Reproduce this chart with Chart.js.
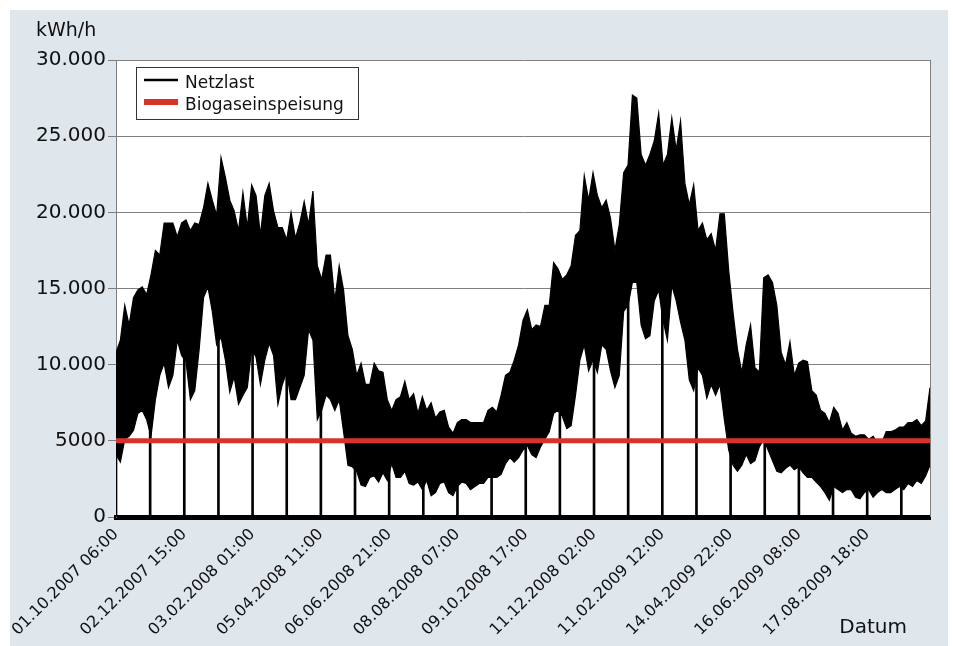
<!DOCTYPE html>
<html lang="de">
<head>
<meta charset="utf-8">
<title>Netzlast und Biogaseinspeisung</title>
<script src="https://cdn.jsdelivr.net/npm/chart.js@4.4.1/dist/chart.umd.min.js"></script>
<style>
  html, body { margin: 0; padding: 0; background: #fff; }
  #wrap { position: relative; width: 953px; height: 646px; }
</style>
</head>
<body>
<div id="wrap"><canvas id="lastChart" width="953" height="646"></canvas></div>
<script>
// Netzlast from 01.10.2007 06:00, read off the picture as a band:
// one upper and one lower value every 4 days, in kWh/h
const sampleStepHours = 96;

const netzMax = [
  10800, 11600, 13900, 12600, 14400, 14900, 15100, 14600, 15900, 17500,
  17200, 19300, 19300, 19300, 18400, 19300, 19500, 18800, 19300, 19200,
  20300, 21900, 20800, 19800, 23600, 22300, 20800, 20100, 18800, 21300,
  19000, 21800, 21100, 18500, 21100, 21900, 20100, 19000, 19000, 18200,
  20000, 18300, 19300, 20700, 19200, 21400, 16500, 15600, 17200, 17200,
  14200, 16500, 14900, 11900, 11000, 9300, 10100, 8700, 8700, 10100,
  9600, 9500, 7700, 7000, 7700, 7900, 8900, 7700, 8100, 6800,
  7900, 7000, 7500, 6500, 6900, 7000, 5900, 5500, 6200, 6400,
  6400, 6200, 6200, 6200, 6200, 7000, 7200, 6900, 8000, 9300,
  9500, 10300, 11300, 12900, 13600, 12300, 12600, 12500, 13900, 13900,
  16700, 16300, 15600, 15900, 16500, 18500, 18800, 22400, 20800, 22600,
  21100, 20300, 20800, 19600, 17500, 19200, 22600, 23100, 27700, 27500,
  23800, 23100, 23800, 24700, 26500, 23100, 23800, 26200, 24100, 26000,
  21900, 20500, 21800, 18800, 19300, 18200, 18600, 17500, 19900, 19900,
  16200, 13400, 11000, 9500, 11300, 12600, 9800, 9500, 15700, 15900,
  15400, 13900, 10800, 10000, 11500, 9300, 10100, 10300, 10200, 8300,
  8000, 7000, 6800, 6200, 7200, 6800, 5700, 6200, 5500, 5300,
  5400, 5400, 5100, 5300, 4900, 4900, 5600, 5600, 5700, 5900,
  5900, 6200, 6200, 6400, 6000, 6300, 8500
];

const netzMin = [
  4100, 3600, 5100, 5300, 5700, 6800, 7000, 6400, 5300, 7700,
  9300, 10100, 8500, 9300, 11600, 10600, 10200, 7700, 8300, 11000,
  14400, 15100, 13500, 11300, 11800, 10300, 8200, 9200, 7400, 8000,
  8500, 11000, 10500, 8700, 10300, 11400, 10600, 7400, 8700, 9500,
  7700, 7700, 8500, 9300, 12300, 11600, 6400, 7000, 8000, 7700,
  7000, 7700, 5600, 3400, 3300, 3000, 2100, 2000, 2600, 2700,
  2300, 2900, 2400, 3500, 2600, 2600, 3000, 2200, 2100, 2300,
  1800, 2400, 1400, 1600, 2200, 2300, 1600, 1400, 2000, 2300,
  2200, 1800, 2000, 2200, 2200, 2600, 2600, 2600, 2800, 3500,
  3900, 3600, 3900, 4400, 4700, 4100, 3900, 4600, 5100, 5600,
  6800, 7000, 6600, 5800, 6000, 8000, 10300, 11300, 9600, 10300,
  9500, 11300, 11000, 9600, 8500, 9300, 13500, 13900, 15400, 15400,
  12600, 11700, 11900, 14200, 14900, 12900, 11600, 15200, 14200, 12800,
  11600, 9000, 8300, 9800, 9300, 7800, 8700, 8000, 8700, 6400,
  4400, 3400, 3000, 3400, 4100, 3500, 3700, 4600, 5100, 4400,
  3700, 3000, 2900, 3200, 3400, 3100, 3300, 2900, 2600, 2600,
  2300, 2000, 1600, 1100, 2000, 1800, 1600, 1800, 1800, 1300,
  1200, 1600, 1800, 1300, 1600, 1800, 1600, 1600, 1800, 2000,
  1800, 2200, 2000, 2400, 2200, 2700, 3400
];

// Biogaseinspeisung is flat over the whole period (start, end)
const biogasLevel = [5000, 5000];

// one grid step in hours; the date labels sit on every second step
const tickStepHours = 749;
const xTickLabels = [
  '01.10.2007 06:00', '02.12.2007 15:00', '03.02.2008 01:00', '05.04.2008 11:00',
  '06.06.2008 21:00', '08.08.2008 07:00', '09.10.2008 17:00', '11.12.2008 02:00',
  '11.02.2009 12:00', '14.04.2009 22:00', '16.06.2009 08:00', '17.08.2009 18:00'
];
const yTickLabels = ['0', '5000', '10.000', '15.000', '20.000', '25.000', '30.000'];

// the load series falls to zero once every grid step;
// value where each of those drops runs into the band
const dropTops = [
  7000, 9000, 14000, 15000, 14000, 13000, 10000, 5000, 4000, 4000, 4000, 4000,
  7000, 10000, 15000, 18000, 18000, 14000, 8000, 7000, 5000, 3500, 3500, 3500
];

const lastHour = (netzMax.length - 1) * sampleStepHours;
const toPoints = arr => arr.map((v, i) => ({ x: i * sampleStepHours, y: v }));

const RED = '#d7332a';
const GRID = '#7f7f7f';
const FONT = 'DejaVu Sans';

// background, plot frame, legend box and the two axis captions
const framePlugin = {
  id: 'frame',
  beforeDraw(chart) {
    const { ctx, chartArea: a, width, height } = chart;
    ctx.save();
    ctx.fillStyle = '#fff';
    ctx.fillRect(0, 0, width, height);
    ctx.fillStyle = '#dfe6ec';
    ctx.fillRect(10, 10, width - 15, height - 10);
    ctx.fillStyle = '#fff';
    ctx.fillRect(a.left, a.top, a.right - a.left, a.bottom - a.top);
    ctx.restore();
  },
  afterDraw(chart) {
    const { ctx, chartArea: a, height } = chart;
    ctx.save();
    // right edge of the plot
    ctx.strokeStyle = GRID;
    ctx.lineWidth = 1;
    ctx.beginPath();
    ctx.moveTo(a.right + 0.5, a.top);
    ctx.lineTo(a.right + 0.5, a.bottom);
    ctx.stroke();

    // legend
    const items = chart.data.datasets.filter(d => d.inLegend)
      .sort((p, q) => p.legendRank - q.legendRank);
    const bx = a.left + 20, by = a.top + 7;
    ctx.fillStyle = '#fff';
    ctx.fillRect(bx, by, 222, 52);
    ctx.strokeStyle = '#333';
    ctx.strokeRect(bx + 0.5, by + 0.5, 222, 52);
    ctx.font = '17px "' + FONT + '"';
    ctx.textBaseline = 'alphabetic';
    items.forEach((d, i) => {
      const cy = by + 13 + i * 22;
      ctx.strokeStyle = d.borderColor;
      ctx.lineWidth = d.legendLine;
      ctx.beginPath();
      ctx.moveTo(bx + 8, cy);
      ctx.lineTo(bx + 42, cy);
      ctx.stroke();
      ctx.fillStyle = '#111';
      ctx.fillText(d.label, bx + 49, cy + 8);
    });

    // axis captions
    ctx.fillStyle = '#111';
    ctx.font = '19px "' + FONT + '"';
    ctx.textAlign = 'left';
    ctx.fillText('kWh/h', a.left - 80, a.top - 24);
    ctx.font = '20px "' + FONT + '"';
    ctx.textAlign = 'right';
    ctx.fillText('Datum', a.right - 23, height - 13);
    ctx.restore();
  }
};

const ctx = document.getElementById('lastChart');

new Chart(ctx, {
  type: 'line',
  data: {
    datasets: [
      {
        label: 'Biogaseinspeisung',
        data: [{ x: 0, y: biogasLevel[0] }, { x: lastHour, y: biogasLevel[1] }],
        borderColor: RED,
        borderWidth: 5,
        pointRadius: 0,
        order: 0,
        inLegend: true,
        legendRank: 2,
        legendLine: 6
      },
      {
        label: 'Netzlast',
        data: toPoints(netzMax),
        borderColor: '#000',
        backgroundColor: '#000',
        borderWidth: 1.2,
        pointRadius: 0,
        fill: '+1',
        order: 1,
        inLegend: true,
        legendRank: 1,
        legendLine: 2.5
      },
      {
        label: 'Netzlast (unten)',
        data: toPoints(netzMin),
        borderColor: '#000',
        borderWidth: 1.2,
        pointRadius: 0,
        fill: false,
        order: 1
      },
      {
        type: 'bar',
        label: 'Netzlast (Ausfall)',
        data: dropTops.map((v, k) => ({ x: k * tickStepHours, y: v })),
        backgroundColor: '#000',
        barThickness: 2,
        grouped: false,
        order: 2
      }
    ]
  },
  options: {
    responsive: false,
    animation: false,
    layout: { padding: { top: 60, right: 23, left: 0, bottom: 0 } },
    plugins: {
      legend: { display: false },
      tooltip: { enabled: false }
    },
    scales: {
      x: {
        type: 'linear',
        min: 0,
        max: lastHour,
        offset: false,
        afterBuildTicks: scale => {
          const ticks = [];
          for (let k = 0; k * tickStepHours <= lastHour; k++) {
            ticks.push({ value: k * tickStepHours });
          }
          scale.ticks = ticks;
        },
        afterFit: scale => { scale.height = 129; },
        ticks: {
          autoSkip: false,
          minRotation: 45,
          maxRotation: 45,
          padding: 8,
          color: '#111',
          font: { family: FONT, size: 16 },
          callback: (value, index) => (index % 2 === 0 ? xTickLabels[index / 2] : '')
        },
        grid: { display: false, drawTicks: false, offset: false },
        border: { display: true, color: '#000', width: 5 }
      },
      y: {
        min: 0,
        max: 30000,
        afterFit: scale => { scale.width = 116; },
        ticks: {
          stepSize: 5000,
          padding: 2,
          color: '#111',
          font: { family: FONT, size: 20 },
          callback: value => yTickLabels[value / 5000]
        },
        grid: { color: GRID, lineWidth: 1, tickLength: 8, tickColor: GRID },
        border: { color: GRID, width: 1 }
      }
    }
  },
  plugins: [framePlugin]
});
</script>
</body>
</html>
